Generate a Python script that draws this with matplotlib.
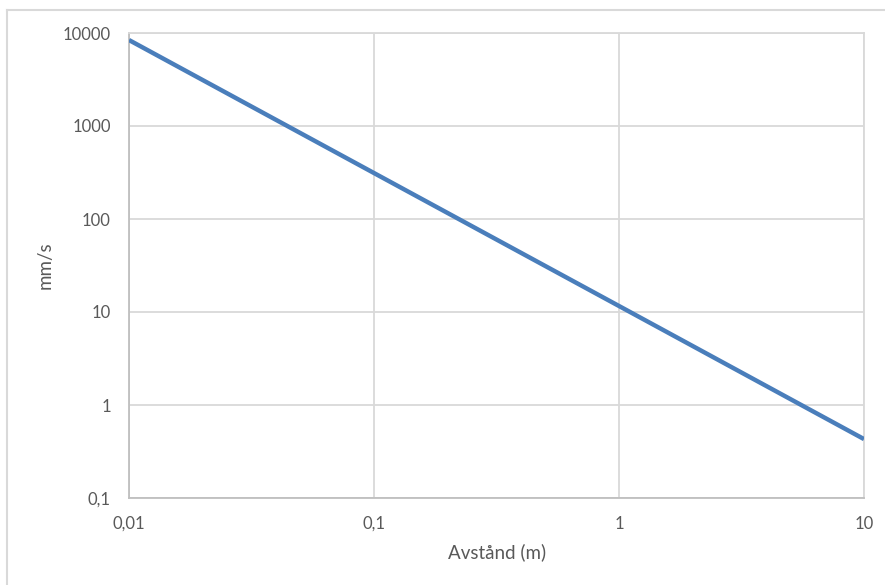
import matplotlib.pyplot as plt
from matplotlib.lines import Line2D
from matplotlib.ticker import FixedLocator, FixedFormatter, NullLocator

# distance (m) vs vibration velocity (mm/s)
avstand = [0.01, 0.1, 1, 10]
hastighet = [8400, 312, 11.6, 0.43]

x_ticks = [0.01, 0.1, 1, 10]
x_labels = ['0,01', '0,1', '1', '10']
y_ticks = [0.1, 1, 10, 100, 1000, 10000]
y_labels = ['0,1', '1', '10', '100', '1000', '10000']

GRID = '#d9d9d9'
TXT = '#595959'
plt.rcParams['font.family'] = ['Lato', 'DejaVu Sans']

fig = plt.figure(figsize=(8.85, 5.85), dpi=100)
ax = fig.add_axes([129 / 885, 1 - 498 / 585, 735 / 885, 465 / 585])

ax.plot(avstand, hastighet, color='#4a7ebb', lw=3.2, solid_capstyle='butt', zorder=3)

ax.set_xscale('log')
ax.set_yscale('log')
ax.set_xlim(0.01, 10)
ax.set_ylim(0.1, 10000)
ax.xaxis.set_major_locator(FixedLocator(x_ticks))
ax.xaxis.set_major_formatter(FixedFormatter(x_labels))
ax.yaxis.set_major_locator(FixedLocator(y_ticks))
ax.yaxis.set_major_formatter(FixedFormatter(y_labels))
ax.xaxis.set_minor_locator(NullLocator())
ax.yaxis.set_minor_locator(NullLocator())

ax.grid(True, color=GRID, lw=1.3)
ax.set_axisbelow(True)
for s in ax.spines.values():
    s.set_color(GRID)
    s.set_linewidth(1.3)
ax.spines['left'].set_color('#bfbfbf')
ax.spines['bottom'].set_color('#bfbfbf')
ax.tick_params(length=0, labelsize=12, colors=TXT)
ax.tick_params(axis='y', pad=13)
ax.tick_params(axis='x', pad=13)

fig.text(45 / 885, 1 - 265 / 585, 'mm/s', rotation=90, ha='center', va='center',
         fontsize=13.5, color=TXT)
fig.text(497 / 885, 1 - 552 / 585, 'Avstånd (m)', ha='center', va='center',
         fontsize=13.5, color=TXT)

# outer chart frame (only left and top visible)
fig.add_artist(Line2D([7 / 885, 7 / 885], [0, 1 - 10 / 585], color=GRID, lw=1.5))
fig.add_artist(Line2D([7 / 885, 1], [1 - 10 / 585, 1 - 10 / 585], color=GRID, lw=1.5))

fig.savefig('out.png', dpi=100)
